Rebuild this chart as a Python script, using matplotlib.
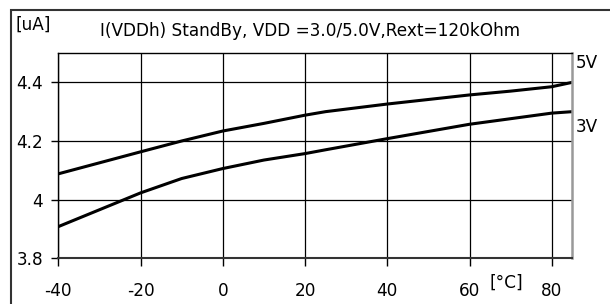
import numpy as np
import matplotlib
matplotlib.use("Agg")
import matplotlib.pyplot as plt
from matplotlib.patches import Rectangle

# temperatura [°C] y corriente [uA]
temp_5v = [-40, -20, -10, 0, 10, 20, 25, 40, 60, 70, 80, 85]
curr_5v = [4.088, 4.163, 4.200, 4.234, 4.260, 4.288, 4.300, 4.326, 4.357, 4.370, 4.385, 4.400]
temp_3v = [-40, -20, -10, 0, 10, 20, 25, 40, 60, 80, 85]
curr_3v = [3.908, 4.023, 4.072, 4.106, 4.135, 4.157, 4.170, 4.208, 4.257, 4.295, 4.300]

xticks = [-40, -20, 0, 20, 40, 60, 80]
yticks = [3.8, 4.0, 4.2, 4.4]
ytick_labels = ["3.8", "4", "4.2", "4.4"]
titulo = "I(VDDh) StandBy, VDD =3.0/5.0V,Rext=120kOhm"

plt.rcParams['font.family'] = ['DejaVu Sans']
plt.rcParams['axes.unicode_minus'] = False
fs = 12.2

fig = plt.figure(figsize=(6.1, 3.04), dpi=100)
ax = fig.add_axes([58.3/610, 1-258.3/304, (572.3-58.3)/610, (258.3-53)/304])

ax.plot(temp_5v, curr_5v, color='black', lw=2.2, solid_capstyle='butt')
ax.plot(temp_3v, curr_3v, color='black', lw=2.2, solid_capstyle='butt')

ax.set_xlim(-40, 85)
ax.set_ylim(3.8, 4.5)
ax.set_xticks(xticks)
ax.set_yticks(yticks)
ax.set_yticklabels(ytick_labels)
ax.grid(True, color='black', lw=0.9)
ax.set_axisbelow(True)
ax.tick_params(axis='y', length=5, width=1, pad=6, labelsize=fs, colors='black')
ax.tick_params(axis='x', length=6, width=1, pad=11, labelsize=fs, colors='black')

for s in ['left', 'top']:
    ax.spines[s].set_color('black')
    ax.spines[s].set_linewidth(1)
ax.spines['bottom'].set_color('#333333')
ax.spines['bottom'].set_linewidth(1.5)
ax.spines['right'].set_color('#999999')
ax.spines['right'].set_linewidth(1.8)

# marco exterior
fig.patches.append(Rectangle((11/610, -0.05), 1.2, 1-10/304+0.05, transform=fig.transFigure,
                             fill=False, edgecolor='#333333', lw=1.5))

fig.text(33/610, 1-25/304, "[uA]", ha='center', va='center', fontsize=fs)
fig.text(310/610, 1-31.5/304, titulo, ha='center', va='center', fontsize=fs)
fig.text(576/610, 1-62.5/304, "5V", ha='left', va='center', fontsize=fs)
fig.text(576/610, 1-127.5/304, "3V", ha='left', va='center', fontsize=fs)
fig.text(506.7/610, 1-283/304, "[°C]", ha='center', va='center', fontsize=fs)

fig.savefig("out.png", dpi=100)
